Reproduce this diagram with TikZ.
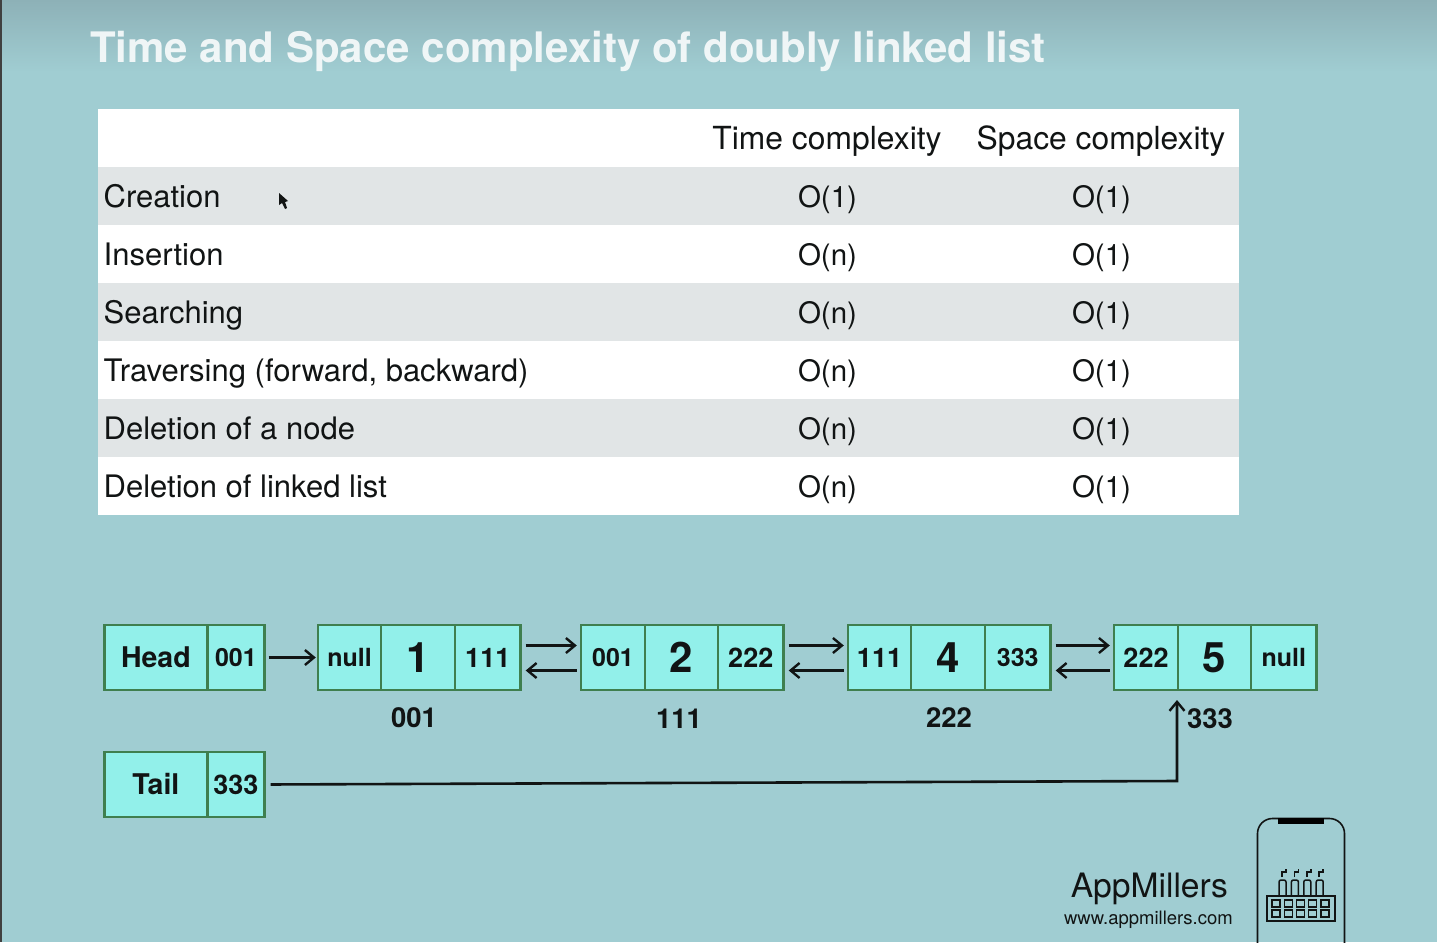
\documentclass[tikz,border=0pt]{standalone}
\usepackage{fontspec}
\setmainfont{TeX Gyre Heros}
\usetikzlibrary{arrows.meta,positioning}
\definecolor{slidebg}{HTML}{A0CDD2}
\definecolor{slidetop}{HTML}{8DB1B7}
\definecolor{rowgrey}{HTML}{E1E5E6}
\definecolor{cellfill}{HTML}{92F0EA}
\definecolor{celledge}{HTML}{3F7F4F}
\definecolor{inkblack}{HTML}{111414}
\tikzset{
  cell/.style={draw=celledge,fill=cellfill,line width=2.4pt,minimum height=65pt,
               inner sep=0pt,text=inkblack,font=\fontsize{27}{27}\selectfont\bfseries},
  big/.style={font=\fontsize{42}{42}\selectfont\bfseries},
  word/.style={font=\fontsize{28.5}{28.5}\selectfont\bfseries},
  small/.style={font=\fontsize{25}{25}\selectfont\bfseries},
  addr/.style={text=inkblack,font=\fontsize{27.5}{27.5}\selectfont\bfseries},
  row/.style={minimum width=1141pt,minimum height=58pt,inner sep=0pt,anchor=north west},
  rowtext/.style={text=inkblack,inner sep=0pt,text height=23pt,text depth=0pt,font=\fontsize{31}{31}\selectfont},
  headtext/.style={rowtext,font=\fontsize{31.8}{31.8}\selectfont},
  cost/.style={rowtext,font=\fontsize{29.5}{29.5}\selectfont}
}
\begin{document}
\begin{tikzpicture}[x=1pt,y=-1pt,>={Straight Barb[length=9pt,width=15pt,line width=2.4pt]},
                    node distance=0pt]
  \useasboundingbox (0,0) rectangle (1437,942);
  \fill[slidebg] (0,0) rectangle (1437,942);
  \shade[top color=slidetop,bottom color=slidebg] (0,0) rectangle (1437,72);
  \fill[black!75] (0,0) rectangle (2,942);

  \node[anchor=west,inner sep=0pt,text=white,opacity=.85,text height=30pt,text depth=0pt,
        font=\fontsize{42}{42}\selectfont\bfseries] (title) at (90,48)
    {Time and Space complexity of doubly linked list};

  % table
  \node[row,fill=white] (row0) at (98,109) {};
  \node[headtext] (time0) at (827,138) {Time complexity};
  \node[headtext] (space0) at (1101,138) {Space complexity};
  \foreach \i/\y/\col/\lbl/\tc in {1/167/rowgrey/Creation/O(1),
      2/225/white/Insertion/O(n),
      3/283/rowgrey/Searching/O(n),
      4/341/white/{Traversing (forward, backward)}/O(n),
      5/399/rowgrey/Deletion of a node/O(n),
      6/457/white/Deletion of linked list/O(n)}{
    \node[row,fill=\col] (row\i) at (98,\y) {};
    \node[rowtext,anchor=west] (lbl\i) at (103.5,\y+29) {\lbl};
    \node[cost] (time\i) at (827.5,\y+29) {\tc};
    \node[cost] (space\i) at (1101.5,\y+29) {O(1)};
  }
  % mouse pointer
  \fill[inkblack] (279,193) -- (279,205) -- (282,203) -- (285,209) -- (287,208) -- (285,202) -- (288,201) -- cycle;

  % list
  \node[cell,word,minimum width=103pt,anchor=north west] (head) at (103.2,623.8) {Head};
  \node[cell,small,minimum width=57pt,right=-2.4pt of head] (headptr) {001};
  \node[cell,word,minimum width=103pt,anchor=north west] (tail) at (103.2,750.8) {Tail};
  \node[cell,minimum width=57pt,right=-2.4pt of tail] (tailptr) {333};

  \node[cell,small,minimum width=63pt,anchor=north west] (1a) at (316.8,623.8) {null};
  \node[cell,big,minimum width=74pt,right=-2.4pt of 1a] (1b) {1};
  \node[cell,minimum width=65.5pt,right=-2.4pt of 1b] (1c) {111};

  \node[cell,small,minimum width=64pt,anchor=north west] (2a) at (579.8,623.8) {001};
  \node[cell,big,minimum width=73pt,right=-2.4pt of 2a] (2b) {2};
  \node[cell,minimum width=65.5pt,right=-2.4pt of 2b] (2c) {222};

  \node[cell,minimum width=63pt,anchor=north west] (3a) at (846.8,623.8) {111};
  \node[cell,big,minimum width=74pt,right=-2.4pt of 3a] (3b) {4};
  \node[cell,small,minimum width=65.5pt,right=-2.4pt of 3b] (3c) {333};

  \node[cell,minimum width=64pt,anchor=north west] (4a) at (1112.8,623.8) {222};
  \node[cell,big,minimum width=73pt,right=-2.4pt of 4a] (4b) {5};
  \node[cell,small,minimum width=65.5pt,right=-2.4pt of 4b] (4c) {null};

  \node[addr] (addr1) at (414,718) {001};
  \node[addr] (addr2) at (679,719) {111};
  \node[addr] (addr3) at (949,718) {222};
  \node[addr] (addr4) at (1210,719) {333};

  \coordinate (tailend) at (1177,700);
  \coordinate (tailbend) at (1177,781);

  \draw[->,line width=2.2pt,inkblack,shorten <=3pt,shorten >=1pt] (headptr) -- (1a);
  \foreach \a/\b in {1c/2a,2c/3a,3c/4a}{
    \draw[->,line width=2.2pt,inkblack,shorten <=4pt,shorten >=3pt] ([yshift=12pt]\a.east) -- ([yshift=12pt]\b.west);
    \draw[->,line width=2.2pt,inkblack,shorten <=3pt,shorten >=4pt] ([yshift=-13pt]\b.west) -- ([yshift=-13pt]\a.east);
  }
  \draw[->,line width=2.6pt,inkblack,shorten <=5pt] (tailptr.east) -- (tailbend) -- (tailend);

  % logo
  \node[anchor=east,inner sep=0pt,text=inkblack,font=\fontsize{33.6}{33.6}\selectfont] (brand) at (1228,889) {AppMillers};
  \node[anchor=east,inner sep=0pt,text=inkblack,font=\fontsize{18.5}{18.5}\selectfont] (site) at (1233,920) {www.appmillers.com};
  \draw[inkblack,line width=1.6pt,rounded corners=15pt] (1257.5,818.5) rectangle (1344.5,960);
  \fill[black] (1278,818) rectangle (1324,824);
  \draw[inkblack,line width=1.8pt] (1267,896) rectangle (1335,921);
  \foreach \k in {0,1,2,3,4}{
    \draw[inkblack,line width=1.4pt] (1272+12.2*\k,900) rectangle ++(8,7);
    \draw[inkblack,line width=1.4pt] (1272+12.2*\k,910) rectangle ++(8,7);
  }
  \foreach \k in {0,1,2,3}{
    \draw[inkblack,line width=1.5pt,rounded corners=2pt] (1279+12.4*\k,895) -- ++(0,-15) -- ++(7,0) -- ++(0,15);
    \draw[inkblack,line width=1.8pt] (1282+12.4*\k,877) -- ++(0,-5) -- ++(4,0) -- ++(0,-3);
  }
\end{tikzpicture}
\end{document}
